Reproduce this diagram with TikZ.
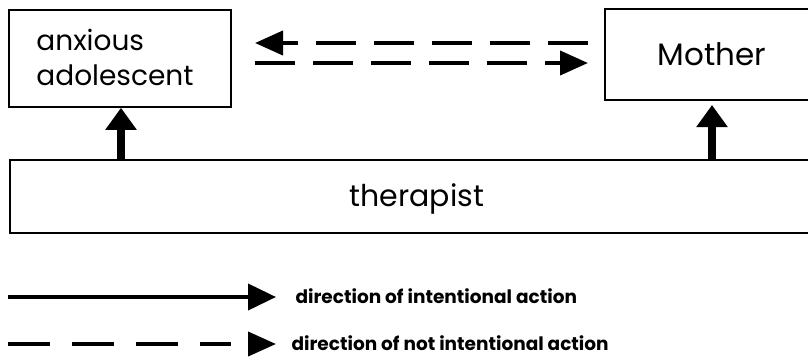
\documentclass[tikz,border=0pt]{standalone}
\usepackage{fontspec}
\setmainfont{Poppins}
\usetikzlibrary{arrows.meta}

\begin{document}
\begin{tikzpicture}[x=1pt, y=1pt,
    box/.style={draw, line width=1.6pt, inner sep=0pt},
    uparrow/.style={line width=8pt, -{Triangle[width=30pt, length=22pt]}},
    dashline/.style={line width=4pt, dash pattern=on 40pt off 18pt},
    headonly/.style={line width=4pt, -{Triangle[width=24pt, length=28pt]}},
    keyarrow/.style={line width=4pt, -{Triangle[width=26pt, length=28pt]}},
    keytext/.style={anchor=west, font=\fontsize{18.5}{22}\bfseries}]
  \useasboundingbox (0,0) rectangle (808,-360);

  % boxes
  \node[box, minimum width=222pt, minimum height=97pt] (adol) at (120,-58.5) {};
  \node[align=left, font=\fontsize{28}{35}\selectfont] (adoltext) at (115,-57) {anxious\\adolescent};
  \node[box, minimum width=214pt, minimum height=91pt,
        font=\fontsize{31}{34}\selectfont] (mother) at (712,-54.5) {Mother};
  \node[box, minimum width=806pt, minimum height=73pt] (ther) at (413,-196.5) {};
  \node[font=\fontsize{30}{34}\selectfont] (thertext) at (417,-199) {therapist};

  % arrows from therapist
  \draw[uparrow] (ther.north -| 121,0) -- (adol.south -| 121,0);
  \draw[uparrow] (ther.north -| 712,0) -- (712,-105);

  % not intentional actions between adolescent and mother
  \coordinate (a1) at (588,-43);
  \coordinate (a2) at (255,-43);
  \coordinate (b1) at (255,-63);
  \coordinate (b2) at (588,-63);
  \draw[dashline] (a1) -- ([xshift=14pt]a2);
  \draw[headonly] ([xshift=16pt]a2) -- (a2);
  \draw[dashline] (b1) -- ([xshift=-14pt]b2);
  \draw[headonly] ([xshift=-16pt]b2) -- (b2);

  % key
  \coordinate (k1) at (8,-297);
  \coordinate (k2) at (276,-297);
  \coordinate (k3) at (8,-344);
  \coordinate (k4) at (276,-344);
  \draw[keyarrow] (k1) -- (k2);
  \draw[dashline, dash pattern=on 42pt off 22pt] (k3) -- ([xshift=-45pt]k4);
  \draw[headonly] ([xshift=-16pt]k4) -- (k4);
  \node[keytext] (key1) at (292,-296) {direction of intentional action};
  \node[keytext] (key2) at (288,-343) {direction of not intentional action};
\end{tikzpicture}
\end{document}
